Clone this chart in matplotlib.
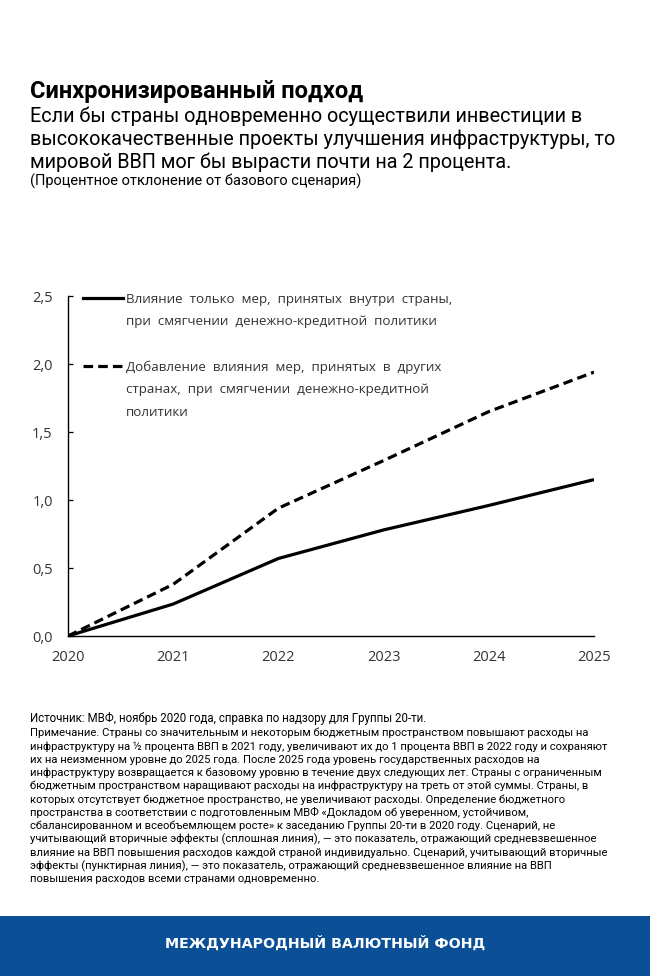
import matplotlib
matplotlib.use("Agg")
import matplotlib.pyplot as plt
from matplotlib.lines import Line2D
from matplotlib.patches import Rectangle
from matplotlib.ticker import FuncFormatter

years = [2020, 2021, 2022, 2023, 2024, 2025]
domestic = [0.0, 0.235, 0.57, 0.78, 0.96, 1.15]
with_spillovers = [0.0, 0.38, 0.94, 1.29, 1.65, 1.94]
yticks = [0.0, 0.5, 1.0, 1.5, 2.0, 2.5]

label_domestic = ["Влияние  только  мер,  принятых  внутри  страны,",
                  "при  смягчении  денежно-кредитной  политики"]
label_spill = ["Добавление  влияния  мер,  принятых  в  других",
               "странах,  при  смягчении  денежно-кредитной",
               "политики"]

title = "Синхронизированный подход"
subtitle = ["Если бы страны одновременно осуществили инвестиции в",
            "высококачественные проекты улучшения инфраструктуры, то",
            "мировой ВВП мог бы вырасти почти на 2 процента."]
units = "(Процентное отклонение от базового сценария)"
source = "Источник: МВФ, ноябрь 2020 года, справка по надзору для Группы 20-ти."
notes = [
    "Примечание. Страны со значительным и некоторым бюджетным пространством повышают расходы на",
    "инфраструктуру на ½ процента ВВП в 2021 году, увеличивают их до 1 процента ВВП в 2022 году и сохраняют",
    "их на неизменном уровне до 2025 года. После 2025 года уровень государственных расходов на",
    "инфраструктуру возвращается к базовому уровню в течение двух следующих лет. Страны с ограниченным",
    "бюджетным пространством наращивают расходы на инфраструктуру на треть от этой суммы. Страны, в",
    "которых отсутствует бюджетное пространство, не увеличивают расходы. Определение бюджетного",
    "пространства в соответствии с подготовленным МВФ «Докладом об уверенном, устойчивом,",
    "сбалансированном и всеобъемлющем росте» к заседанию Группы 20-ти в 2020 году. Сценарий, не",
    "учитывающий вторичные эффекты (сплошная линия), — это показатель, отражающий средневзвешенное",
    "влияние на ВВП повышения расходов каждой страной индивидуально. Сценарий, учитывающий вторичные",
    "эффекты (пунктирная линия), — это показатель, отражающий средневзвешенное влияние на ВВП",
    "повышения расходов всеми странами одновременно.",
]
footer = "МЕЖДУНАРОДНЫЙ ВАЛЮТНЫЙ ФОНД"

W, H = 650, 976
fig = plt.figure(figsize=(W / 100, H / 100), dpi=100)
fig.patch.set_facecolor("white")

def fy(py):
    return 1 - py / H

# header text
fig.text(30 / W, fy(92), title, fontfamily="Roboto", fontweight="bold",
         fontsize=17, va="center", ha="left", color="black")
for i, line in enumerate(subtitle):
    fig.text(30 / W, fy(116 + i * 23.3), line, fontfamily="Roboto",
             fontsize=14.3, va="center", ha="left", color="black")
fig.text(30 / W, fy(181), units, fontfamily="Roboto", fontsize=10.5,
         va="center", ha="left", color="black")

# chart
ax = fig.add_axes([68 / W, fy(636), (594 - 68) / W, (636 - 296) / H])
dash = (3.0, 1.6)
ax.plot(years, domestic, color="black", lw=2.3, solid_capstyle="butt")
ax.plot(years, with_spillovers, color="black", lw=2.3, dashes=dash,
        dash_capstyle="butt")
ax.set_xlim(years[0], years[-1])
ax.set_ylim(yticks[0], yticks[-1])
ax.set_xticks(years)
ax.set_yticks(yticks)
ax.yaxis.set_major_formatter(FuncFormatter(lambda v, p: f"{v:.1f}".replace(".", ",")))
for s in ["top", "right"]:
    ax.spines[s].set_visible(False)
for s in ["left", "bottom"]:
    ax.spines[s].set_linewidth(1.0)
ax.tick_params(axis="y", direction="in", length=3.6, width=0.9, pad=11,
               labelsize=10.5, labelcolor="#333333")
ax.tick_params(axis="x", length=0, pad=10, labelsize=10.5, labelcolor="#333333")
for lab in ax.get_xticklabels() + ax.get_yticklabels():
    lab.set_fontfamily("Open Sans")

# legend: one row per text line, handle on the first row of each entry
blank = Line2D([], [], color="none")
handles = [Line2D([], [], color="black", lw=2.3), blank, blank,
           Line2D([], [], color="black", lw=2.3, dashes=dash), blank, blank]
labels = [label_domestic[0], label_domestic[1], " ",
          label_spill[0], label_spill[1], label_spill[2]]
leg = ax.legend(handles, labels, loc="upper left", bbox_to_anchor=(0.028, 1.01),
                frameon=False, handlelength=3.0, handletextpad=0.25,
                labelspacing=0.72, borderaxespad=0, borderpad=0,
                prop={"family": "Open Sans", "size": 9.6})
for t in leg.get_texts():
    t.set_color("#333333")

# source and notes
fig.text(30 / W, fy(718), source, fontfamily="Roboto", fontsize=8.3,
         va="center", ha="left", color="black")
for i, line in enumerate(notes):
    fig.text(30 / W, fy(733 + i * 13.3), line, fontfamily="Roboto",
             fontsize=8.1, va="center", ha="left", color="black")

# footer band
fig.patches.append(Rectangle((0, 0), 1, fy(916), transform=fig.transFigure,
                             facecolor="#0b4f96", edgecolor="none"))
fig.text(0.5, fy(943), footer, fontfamily="DejaVu Sans", fontweight="bold",
         fontsize=10.3, va="center", ha="center", color="white")

fig.savefig("out.png", dpi=100)
